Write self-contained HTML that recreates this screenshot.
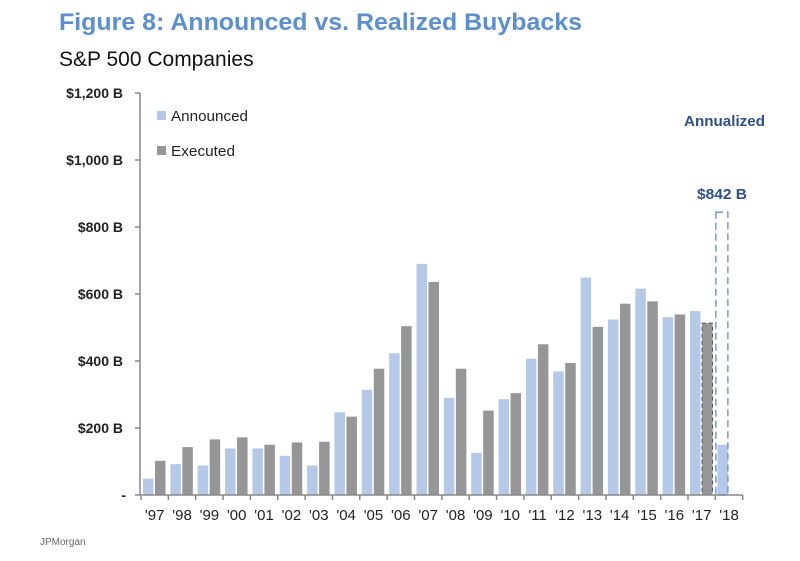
<!DOCTYPE html>
<html><head><meta charset="utf-8"><style>
body{margin:0;background:#fff;width:800px;height:556px;overflow:hidden;font-family:"Liberation Sans",sans-serif}
</style></head><body>
<svg width="800" height="556">
<text x="59" y="30" font-size="24" font-weight="bold" fill="#5b8fd0" textLength="523" lengthAdjust="spacingAndGlyphs">Figure 8: Announced vs. Realized Buybacks</text>
<text x="59" y="66" font-size="21" fill="#111">S&amp;P 500 Companies</text>
<g id="yaxis"></g>
<g id="bars"></g>
<g id="xaxis"></g>
<g>
<rect x="157" y="111" width="9" height="9" fill="#b4c8e8"/>
<text x="171" y="121" font-size="15" fill="#222" textLength="77" lengthAdjust="spacingAndGlyphs">Announced</text>
<rect x="157" y="146" width="9" height="9" fill="#969696"/>
<text x="171" y="156" font-size="15" fill="#222" textLength="64" lengthAdjust="spacingAndGlyphs">Executed</text>
</g>
<text x="684" y="126" font-size="15" font-weight="bold" fill="#2f4f8f" textLength="81" lengthAdjust="spacingAndGlyphs">Annualized</text>
<text x="697" y="199" font-size="15" font-weight="bold" fill="#2f4f8f" textLength="50" lengthAdjust="spacingAndGlyphs">$842 B</text>
<text x="40" y="545" font-size="10" fill="#666">JPMorgan</text>
</svg>
<script>
const years=["'97","'98","'99","'00","'01","'02","'03","'04","'05","'06","'07","'08","'09","'10","'11","'12","'13","'14","'15","'16","'17","'18"];
const announced=[49,92,88,139,139,117,88,247,314,423,690,290,126,286,407,369,649,524,616,531,549,150];
const executed=[102,143,166,172,150,157,159,234,377,504,636,377,252,304,450,394,502,571,578,539,513,null];
const annualized=844;
const yTicks=[0,200,400,600,800,1000,1200];
const yTickLabels=["-","$200 B","$400 B","$600 B","$800 B","$1,000 B","$1,200 B"];
const NS="http://www.w3.org/2000/svg";
const x0=141,step=27.35,base=495,scale=0.335;
const y=v=>base-v*scale, gx=i=>x0+i*step;
function mk(t,a,p){const e=document.createElementNS(NS,t);for(const k in a)e.setAttribute(k,a[k]);p.appendChild(e);return e;}
const ya=document.getElementById('yaxis'),xa=document.getElementById('xaxis'),bars=document.getElementById('bars');
const al=mk('line',{x1:140,x2:140,y1:y(1200),y2:base,stroke:'#888','stroke-width':1.5},ya);

yTicks.forEach((v,i)=>{
 const t=mk('line',{x1:135,x2:140,y1:y(v),y2:y(v),stroke:'#888','stroke-width':1.5},ya);
 
 const tx=mk('text',{x:i==0?126:123,y:y(v)+5,'font-size':14,'font-weight':'bold','text-anchor':'end',fill:'#222'},ya);
 tx.textContent=yTickLabels[i];
 
});
const xl=mk('line',{x1:140,x2:gx(years.length),y1:base,y2:base,stroke:'#888','stroke-width':1.5},xa);

for(let i=0;i<=years.length;i++){
 const t=mk('line',{x1:gx(i),x2:gx(i),y1:base,y2:base+5,stroke:'#888','stroke-width':1.5},xa);
 
}
years.forEach((yr,i)=>{
 const tx=mk('text',{x:gx(i)+step/2,y:base+25,'font-size':15,'text-anchor':'middle',fill:'#222'},xa);
 tx.textContent=yr;
 
 const a=mk('rect',{x:gx(i)+2,y:y(announced[i]),width:10.5,height:announced[i]*scale,fill:'#b4c8e8'},bars);
 
 if(executed[i]!=null){
  const e=mk('rect',{x:gx(i)+14,y:y(executed[i]),width:10.5,height:executed[i]*scale,fill:'#969696'},bars);
  if(i==years.length-2){e.setAttribute('stroke','#555');e.setAttribute('stroke-dasharray','4,3');}
  
 }
});
const last=years.length-1;
const box=mk('rect',{x:gx(last)+0.5,y:y(annualized),width:12,height:annualized*scale,fill:'none',stroke:'#6f9bd8','stroke-width':1.5,'stroke-dasharray':'7,4'},bars);

</script>
</body></html>
